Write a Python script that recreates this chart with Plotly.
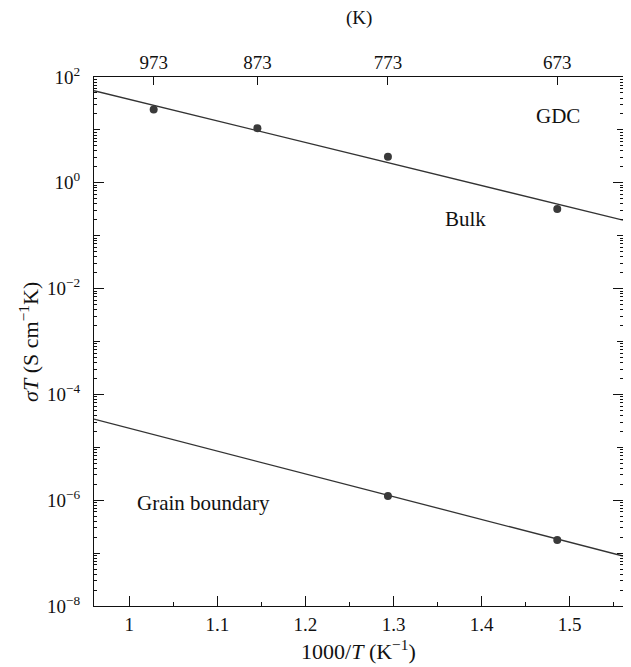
import plotly.graph_objects as go

# ---- data ----
temps_K = [973, 873, 773, 673]                 # top-axis temperatures (K)
bulk_sigmaT = [24.4, 10.8, 3.11, 0.318]        # bulk sigma*T (S cm^-1 K)
gb_temps_K = [773, 673]
gb_sigmaT = [1.2e-6, 1.76e-7]                  # grain-boundary sigma*T
fit_x = [0.96, 1.5605]                         # 1000/T at fit line ends
bulk_fit = [55.0, 0.197]
gb_fit = [3.4e-5, 8.8e-8]
x_ticks = [1, 1.1, 1.2, 1.3, 1.4, 1.5]
x_minor_ticks = [1.05, 1.15, 1.25, 1.35, 1.45, 1.55]
y_label_exps = [-8, -6, -4, -2, 0, 2]
y_odd_exps = [-7, -5, -3, -1, 1]

inv_T = [1000.0 / t for t in temps_K]
gb_inv_T = [1000.0 / t for t in gb_temps_K]

FONT = "Liberation Serif"
INK = "#333333"
DOT = "#3a3a3a"
AX = "#111111"

xr = [0.96, 1.5605]
yr = [-8, 2]

minor_y = []
for e in range(-8, 2):
    for m in range(2, 10):
        minor_y.append(m * 10.0 ** e)

fig = go.Figure()
fig.add_trace(go.Scatter(x=fit_x, y=bulk_fit, mode="lines",
                         line=dict(color=INK, width=1.3), showlegend=False, hoverinfo="skip"))
fig.add_trace(go.Scatter(x=fit_x, y=gb_fit, mode="lines",
                         line=dict(color=INK, width=1.3), showlegend=False, hoverinfo="skip"))
fig.add_trace(go.Scatter(x=inv_T, y=bulk_sigmaT, mode="markers",
                         marker=dict(color=DOT, size=8), showlegend=False))
fig.add_trace(go.Scatter(x=gb_inv_T, y=gb_sigmaT, mode="markers",
                         marker=dict(color=DOT, size=8), showlegend=False))
# invisible helpers so the overlay tick axes are drawn
for xa, ya in [("x2", "y"), ("x3", "y"), ("x", "y3"), ("x", "y4")]:
    fig.add_trace(go.Scatter(x=inv_T, y=bulk_sigmaT, xaxis=xa, yaxis=ya, mode="markers",
                             marker=dict(opacity=0), showlegend=False, hoverinfo="skip"))

common = dict(showgrid=False, zeroline=False, automargin=False, tickcolor=AX)

# the page adds an 8px body margin, so the figure is sized to fit inside the window
fig.update_layout(
    width=623, height=659,
    margin=dict(l=86, r=8, t=69, b=61),
    paper_bgcolor="white", plot_bgcolor="white",
    font=dict(family=FONT, size=19, color="#111111"),
    xaxis=dict(
        range=xr, **common,
        showline=True, linecolor=AX, linewidth=1.3, mirror=True,
        ticks="inside", ticklen=10, tickwidth=1.2,
        tickmode="array", tickvals=x_ticks, ticktext=[f"{v:g}" for v in x_ticks],
        ticklabelstandoff=1,
    ),
    xaxis3=dict(
        range=xr, **common, overlaying="x", anchor="y", side="bottom",
        showline=False, ticks="inside", ticklen=4, tickwidth=1.1,
        tickmode="array", tickvals=x_minor_ticks, showticklabels=False,
    ),
    xaxis2=dict(
        overlaying="x", side="top", anchor="y", range=xr, **common,
        showline=False, ticks="inside", ticklen=8, tickwidth=1.2,
        tickmode="array", tickvals=inv_T, ticktext=[str(t) for t in temps_K],
        ticklabelstandoff=3,
    ),
    yaxis=dict(
        type="log", range=yr, **common,
        showline=True, linecolor=AX, linewidth=1.3, mirror="ticks",
        ticks="inside", ticklen=10, tickwidth=1.2,
        tickmode="array", tickvals=[10.0 ** e for e in y_label_exps],
        ticktext=[f"10<sup>{'−' if e < 0 else ''}{abs(e)}</sup>" for e in y_label_exps],
        ticklabelstandoff=9,
    ),
    yaxis3=dict(
        type="log", range=yr, overlaying="y", anchor="x", side="left", **common,
        showline=False, mirror="ticks",
        ticks="inside", ticklen=6, tickwidth=1.1,
        tickmode="array", tickvals=[10.0 ** e for e in y_odd_exps], showticklabels=False,
    ),
    yaxis4=dict(
        type="log", range=yr, overlaying="y", anchor="x", side="left", **common,
        showline=False, mirror="ticks",
        ticks="inside", ticklen=3, tickwidth=1.0,
        tickmode="array", tickvals=minor_y, showticklabels=False,
    ),
    annotations=[
        dict(text="(K)", xref="paper", yref="paper", x=0.5, y=1.111,
             showarrow=False, xanchor="center", yanchor="middle", font=dict(size=19)),
        dict(text="1000/<i>T</i> (K<sup>−1</sup>)", xref="paper", yref="paper",
             x=0.5, y=-0.083, showarrow=False, xanchor="center", yanchor="middle",
             font=dict(size=22)),
        dict(text="<i>σT</i> (S cm<sup>−1</sup>K)", xref="paper", yref="paper",
             x=-0.124, y=0.5, textangle=-90, showarrow=False,
             xanchor="center", yanchor="middle", font=dict(size=22)),
        dict(text="GDC", x=1.487, y=1.255, xref="x", yref="y", showarrow=False,
             xanchor="center", yanchor="middle", font=dict(size=21)),
        dict(text="Bulk", x=1.382, y=-0.68, xref="x", yref="y", showarrow=False,
             xanchor="center", yanchor="middle", font=dict(size=21)),
        dict(text="Grain boundary", x=1.006, y=-6.05, xref="x", yref="y", showarrow=False,
             xanchor="left", yanchor="middle", font=dict(size=21)),
    ],
)

fig.write_html("out.html")
